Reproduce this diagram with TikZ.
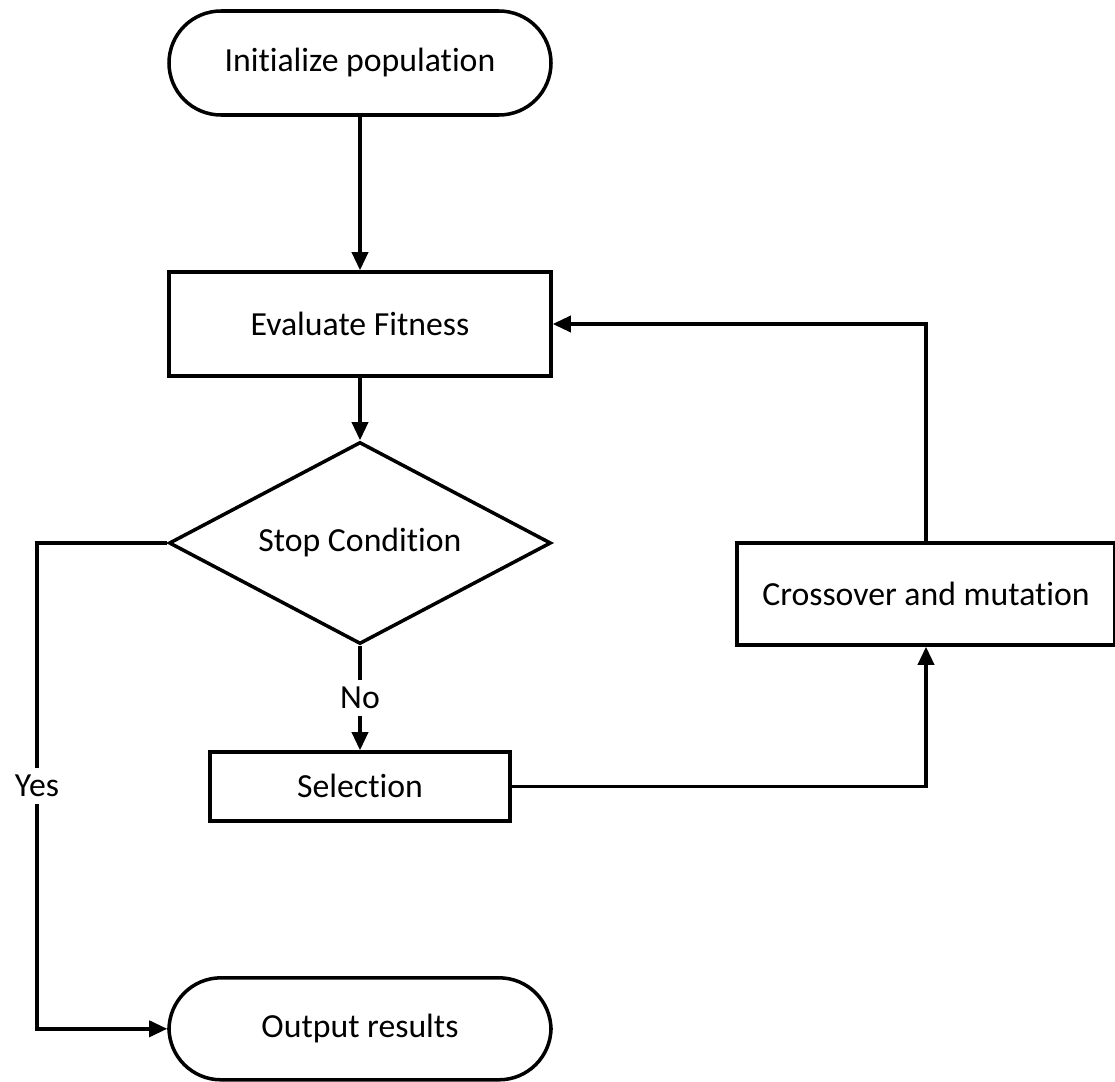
\documentclass[tikz,border=0pt]{standalone}
\usepackage{fontspec}
\setmainfont[Ligatures=NoCommon]{Carlito}
\usetikzlibrary{shapes.geometric,arrows.meta}

\begin{document}
\begin{tikzpicture}[
        line width=2.5pt,
        every node/.style={font=\fontsize{24}{28}\selectfont},
        term/.style={rectangle, draw, rounded corners=1.3cm, minimum width=9.55cm, minimum height=2.6cm},
        proc/.style={rectangle, draw, minimum width=9.55cm, minimum height=2.6cm},
        cond/.style={diamond, draw, aspect=1.9, inner sep=0pt, minimum width=9.55cm, minimum height=5.05cm},
        lbl/.style={fill=white, inner sep=5pt},
        arr/.style={-{Triangle[length=0.45cm,width=0.4cm]}}
    ]
    \useasboundingbox (0,0) rectangle (27.875,-27.05);
    \node[term] (init) at (9.0,-1.575) {Initialize population};
    \node[proc] (eval) at (9.0,-8.1) {Evaluate Fitness};
    \node[cond] (stop) at (9.0,-13.575) {Stop Condition};
    \node[proc, minimum width=7.5cm, minimum height=1.72cm] (sel) at (9.0,-19.66) {Selection};
    \node[proc, minimum width=9.45cm, minimum height=2.55cm] (cross) at (23.15,-14.85) {Crossover and mutation};
    \node[term, minimum height=2.55cm] (out) at (9.0,-25.72) {Output results};
    \coordinate (ycorner) at (0.925,-25.72);

    \draw[arr] (init) -- (eval);
    \draw[arr] (eval) -- (stop);
    \draw[arr] (stop) -- node[lbl] {No} (sel);
    \draw[arr] (sel.east) -| (cross.south);
    \draw[arr] (cross.north) |- (eval.east);
    \draw[arr] (stop.west) -| node[lbl, pos=0.75] {Yes} (ycorner) -- (out.west);
\end{tikzpicture}
\end{document}
